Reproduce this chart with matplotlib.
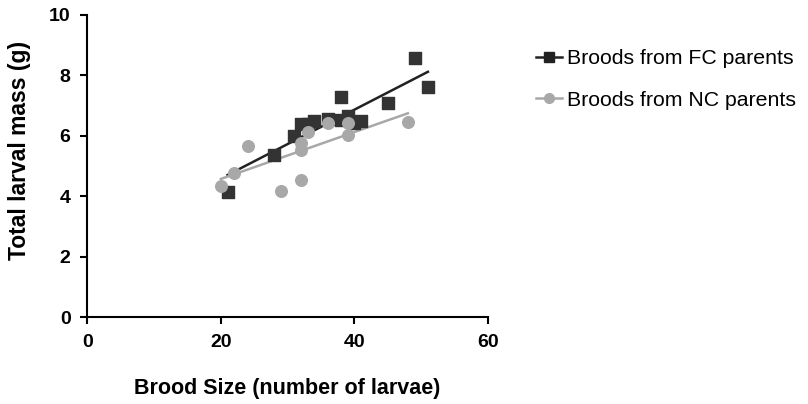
import matplotlib.pyplot as plt
import numpy as np
from matplotlib.lines import Line2D

plt.rcParams['font.family'] = ['Liberation Sans', 'DejaVu Sans']

# Broods from FC parents
fc_x = [21, 28, 31, 32, 33, 34, 36, 38, 38, 39, 40, 41, 45, 49, 51]
fc_y = [4.15, 5.36, 6.0, 6.39, 6.4, 6.49, 6.56, 7.27, 6.52, 6.66, 6.41, 6.5, 7.07, 8.57, 7.63]

# Broods from NC parents
nc_x = [20, 22, 24, 29, 32, 32, 32, 33, 36, 39, 39, 48]
nc_y = [4.34, 4.78, 5.66, 4.17, 4.54, 5.53, 5.75, 6.14, 6.41, 6.41, 6.03, 6.45]

fc_col = '#333333'
nc_col = '#a8a8a8'

fig = plt.figure(figsize=(8.08, 4.04), dpi=100)
ax = fig.add_axes([0.108, 0.215, 0.496, 0.748])

# regression lines
for xs, ys, c in [(fc_x, fc_y, '#222222'), (nc_x, nc_y, '#a8a8a8')]:
    k, b = np.polyfit(xs, ys, 1)
    lx = np.array([min(xs), max(xs)])
    ax.plot(lx, k * lx + b, color=c, lw=1.8, zorder=2)

ax.scatter(fc_x, fc_y, marker='s', s=70, color=fc_col, zorder=3)
ax.scatter(nc_x, nc_y, marker='o', s=70, color=nc_col, zorder=4)

ax.set_xlim(0, 60)
ax.set_ylim(0, 10)
ax.set_xticks([0, 20, 40, 60])
ax.set_yticks([0, 2, 4, 6, 8, 10])
ax.spines['top'].set_visible(False)
ax.spines['right'].set_visible(False)
ax.spines['left'].set_linewidth(1.5)
ax.spines['bottom'].set_linewidth(1.5)
ax.tick_params(direction='out', length=5, width=1.5, labelsize=14, pad=7)
for t in ax.get_xticklabels() + ax.get_yticklabels():
    t.set_fontweight('bold')

ax.set_xlabel('Brood Size (number of larvae)', fontsize=15.5, fontweight='bold')
ax.set_ylabel('Total larval mass (g)', fontsize=16.5, fontweight='bold')
ax.xaxis.set_label_coords(0.499, -0.2)
ax.yaxis.set_label_coords(-0.14, 0.55)

handles = [
    Line2D([], [], color='#222222', marker='s', markersize=7, lw=1.8),
    Line2D([], [], color=nc_col, marker='o', markersize=7, lw=1.8),
]
fig.legend(handles, ['Broods from FC parents', 'Broods from NC parents'],
           loc='upper left', bbox_to_anchor=(0.64, 0.925), frameon=False,
           fontsize=15.3, handlelength=1.2, handletextpad=0.25, labelspacing=1.05)

fig.savefig('out.png', dpi=100)
